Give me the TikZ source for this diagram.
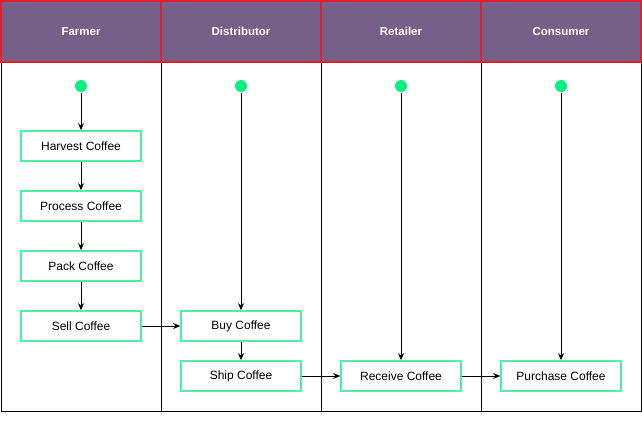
\documentclass[tikz,border=0pt]{standalone}
\usepackage{fontspec}
\setmainfont{Liberation Sans}
\usetikzlibrary{arrows.meta}
\definecolor{lanehead}{HTML}{76608A}
\definecolor{laneedge}{HTML}{E51C2A}
\definecolor{startgreen}{HTML}{00F080}
\definecolor{boxgreen}{HTML}{4DF0A0}

\begin{document}
\begin{tikzpicture}[x=1pt,y=-1pt,>={Stealth[length=7pt,width=6pt]},line width=1pt,
  lane/.style={draw=black,minimum width=160pt,minimum height=349pt,inner sep=0pt,outer sep=0pt},
  head/.style={draw=laneedge,fill=lanehead,line width=1.5pt,minimum width=160pt,minimum height=61pt,text=white,font=\fontsize{11.5}{14}\selectfont\bfseries,inner sep=0pt},
  start/.style={circle,fill=startgreen,minimum size=12pt,inner sep=0pt},
  act/.style={draw=boxgreen,fill=white,line width=1.6pt,minimum width=120pt,minimum height=30pt,font=\fontsize{12}{14}\selectfont}]
\useasboundingbox (0,0) rectangle (642,420);
% lanes
\node[lane] (bfarmer) at (81,236.5) {};
\node[lane] (bdist) at (241,236.5) {};
\node[lane] (bretail) at (401,236.5) {};
\node[lane] (bcons) at (561,236.5) {};
\node[head] (farmer) at (81,31.5) {Farmer};
\node[head] (dist) at (241,31.5) {Distributor};
\node[head] (retail) at (401,31.5) {Retailer};
\node[head] (cons) at (561,31.5) {Consumer};
% start points
\node[start] (sfarmer) at (81,86) {};
\node[start] (sdist) at (241,86) {};
\node[start] (sretail) at (401,86) {};
\node[start] (scons) at (561,86) {};
% activities
\node[act] (harvest) at (81,146) {Harvest Coffee};
\node[act] (process) at (81,206) {Process Coffee};
\node[act] (pack) at (81,266) {Pack Coffee};
\node[act] (sell) at (81,326) {Sell Coffee};
\node[act] (buy) at (241,326) {Buy Coffee};
\node[act] (ship) at (241,376) {Ship Coffee};
\node[act] (receive) at (401,376) {Receive Coffee};
\node[act] (purchase) at (561,376) {Purchase Coffee};
% flow
\draw[->] (sfarmer)--(harvest);
\draw[->] (harvest)--(process);
\draw[->] (process)--(pack);
\draw[->] (pack)--(sell);
\draw[->] (sell)--(buy);
\draw[->] (sdist)--(buy);
\draw[->] (buy)--(ship);
\draw[->] (ship)--(receive);
\draw[->] (sretail)--(receive);
\draw[->] (receive)--(purchase);
\draw[->] (scons)--(purchase);
\end{tikzpicture}
\end{document}
